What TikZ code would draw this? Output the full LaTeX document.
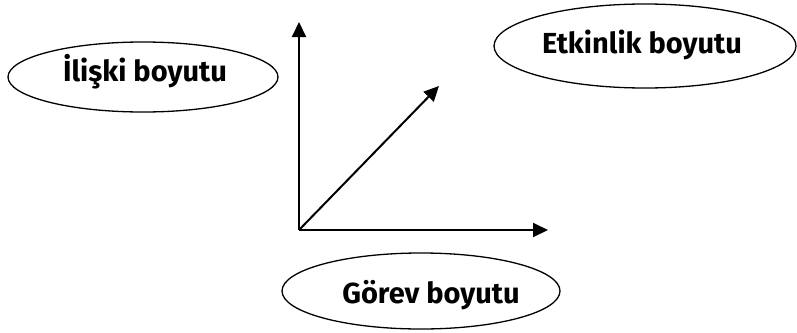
\documentclass[tikz,border=0pt]{standalone}
\usepackage{fontspec}
\setmainfont{Fira Sans}
\usetikzlibrary{shapes.geometric,arrows.meta}
\tikzset{
  oval/.style={ellipse, draw, line width=1.3pt, inner sep=0pt},
  lbl/.style={font=\fontsize{29}{32}\selectfont\bfseries, inner sep=0pt},
  axis/.style={line width=2pt, -{Triangle[length=15pt,width=14pt]}}
}
\begin{document}
\begin{tikzpicture}[x=1pt,y=-1pt]
  \useasboundingbox (0,0) rectangle (797,332);
  % the three dimension ovals
  \node[oval, minimum width=270pt, minimum height=70pt] (rel) at (143,77) {};
  \node[lbl] (reltxt) at (145,72) {İlişki boyutu};
  \node[oval, minimum width=302pt, minimum height=84pt] (act) at (645,46) {};
  \node[lbl] (acttxt) at (642,45) {Etkinlik boyutu};
  \node[oval, minimum width=278pt, minimum height=76pt] (task) at (421,291) {};
  \node[lbl] (tasktxt) at (431,295) {Görev boyutu};
  % axes
  \coordinate (o) at (299,230);
  \coordinate (up) at (299,22);
  \coordinate (right) at (548,230);
  \coordinate (diag) at (439,86);
  \draw[axis] (o) -- (up);
  \draw[axis] (o) -- (right);
  \draw[axis] (o) -- (diag);
\end{tikzpicture}
\end{document}
